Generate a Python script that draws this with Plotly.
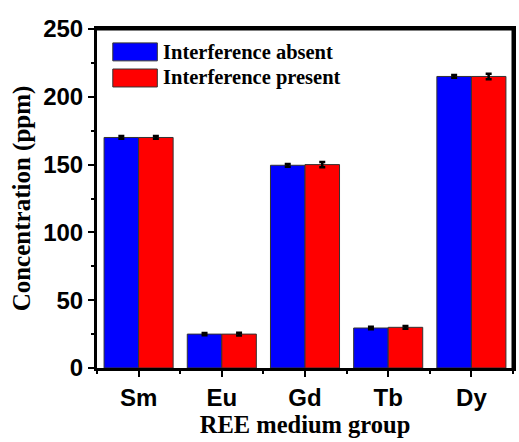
import plotly.graph_objects as go

categories = ["Sm", "Eu", "Gd", "Tb", "Dy"]
absent = [170, 25, 149.5, 29.5, 215]
absent_err = [1, 0.8, 1, 1, 1]
present = [170, 25, 150, 30, 215]
present_err = [1, 1, 2, 1, 2]
series_names = ["Interference absent", "Interference present"]
colors = ["#0000FF", "#FF0000"]
y_ticks = [0, 50, 100, 150, 200, 250]

positions = list(range(len(categories)))

fig = go.Figure()
for name, vals, errs, col in zip(series_names, [absent, present], [absent_err, present_err], colors):
    fig.add_trace(go.Bar(
        x=positions, y=vals, name=name,
        marker=dict(color=col, line=dict(color="#333333", width=1)),
        error_y=dict(type="data", array=errs, color="black", thickness=2.5, width=3),
        showlegend=False,
    ))

serif = "Liberation Serif, Times New Roman, serif"
sans = "Liberation Sans, Arial, sans-serif"

# frame: top and right edges drawn explicitly
fig.add_shape(type="line", xref="paper", yref="paper", x0=0, x1=1, y0=1, y1=1,
              line=dict(color="black", width=3), layer="above")
fig.add_shape(type="line", xref="paper", yref="paper", x0=1, x1=1, y0=0, y1=1,
              line=dict(color="black", width=3), layer="above")

# custom legend with wide swatches
legend_rows = [(0.959, 0.906), (0.882, 0.829)]
for (y1, y0), name, col in zip(legend_rows, series_names, colors):
    fig.add_shape(type="rect", xref="paper", yref="paper",
                  x0=0.038, x1=0.145, y0=y0, y1=y1,
                  fillcolor=col, line=dict(color="#333333", width=1))
    fig.add_annotation(xref="paper", yref="paper", x=0.153, y=(y0 + y1) / 2,
                       text="<b>%s</b>" % name, showarrow=False,
                       xanchor="left", yanchor="middle",
                       font=dict(family=serif, size=20.5, color="black"))

fig.update_layout(
    width=519, height=442,
    margin=dict(l=97, r=3, t=29, b=74),
    paper_bgcolor="white", plot_bgcolor="white",
    barmode="group", bargap=0.17, bargroupgap=0,
    xaxis=dict(
        range=[-0.5, 4.5], tickvals=positions, ticktext=categories,
        showline=True, linewidth=3, linecolor="black", mirror=True,
        ticks="outside", ticklen=6, tickwidth=2, tickcolor="black",
        minor=dict(tick0=0.5, dtick=1, ticks="outside", ticklen=3, tickwidth=2, tickcolor="black"),
        tickfont=dict(family=sans, size=24, color="black", weight="bold"),
        title=dict(text="<b>REE medium group</b>", font=dict(family=serif, size=24.5, color="black"), standoff=6),
        showgrid=False, zeroline=False,
    ),
    yaxis=dict(
        range=[0, 250], tickvals=y_ticks,
        showline=True, linewidth=3, linecolor="black", mirror=True,
        ticks="outside", ticklen=6, tickwidth=2, tickcolor="black",
        minor=dict(dtick=25, tick0=0, ticks="outside", ticklen=3, tickwidth=2, tickcolor="black"),
        tickfont=dict(family=sans, size=24, color="black", weight="bold"),
        title=dict(text="<b>Concentration (ppm)</b>", font=dict(family=serif, size=25, color="black"), standoff=6),
        showgrid=False, zeroline=False,
    ),
)

fig.write_html("out.html", config={"displayModeBar": False},
               post_script="document.body.style.margin='0';document.body.style.overflow='hidden';")
